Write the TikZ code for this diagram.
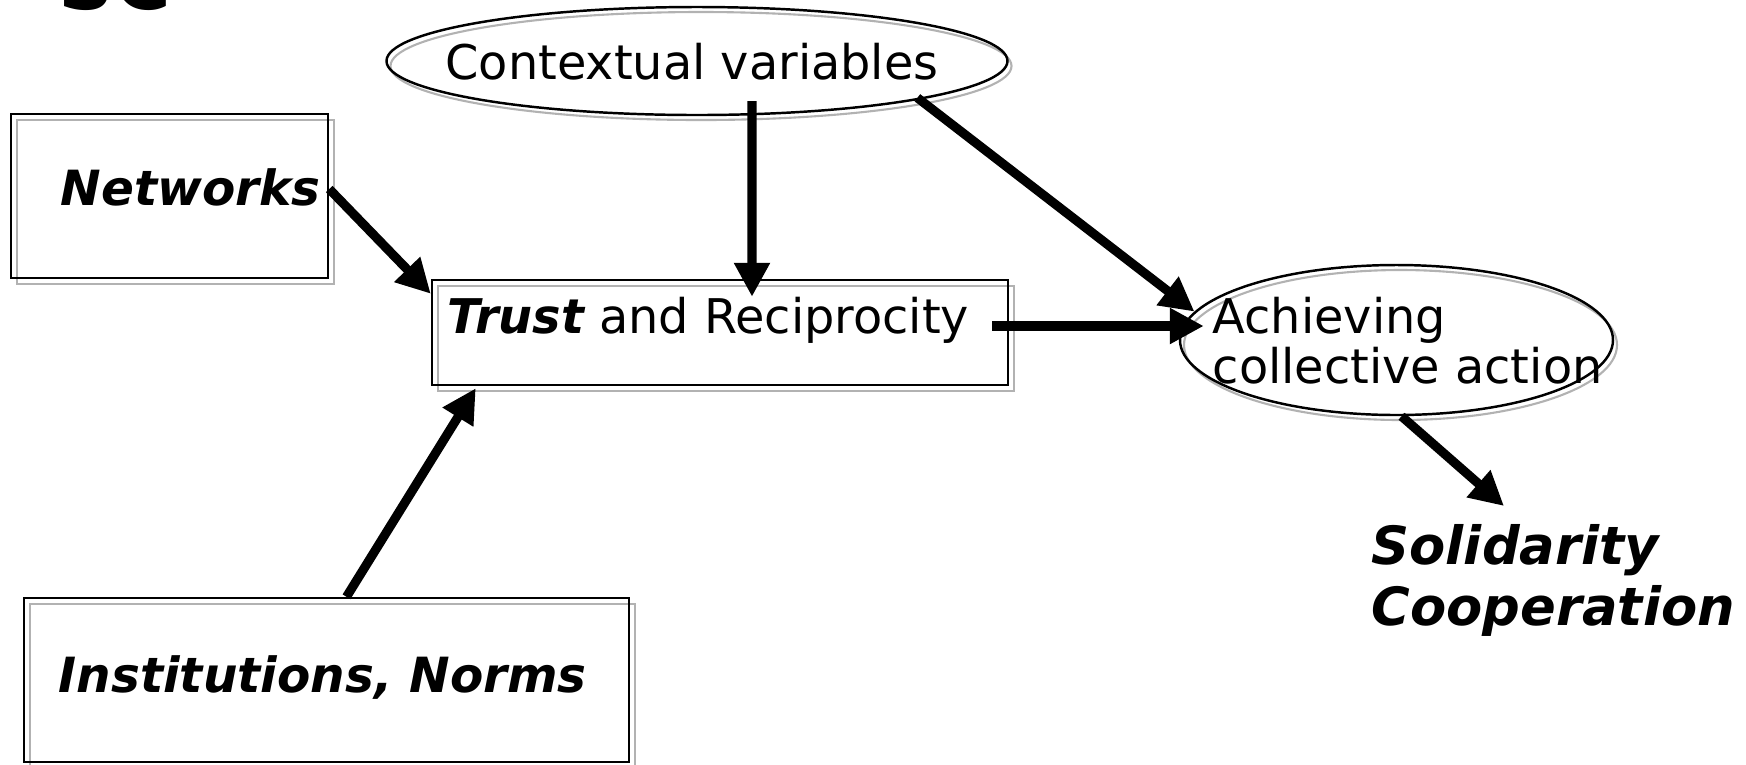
\documentclass[tikz,border=0pt]{standalone}
\usepackage{fontspec}
\setmainfont{DejaVu Sans}
\usetikzlibrary{arrows.meta, shapes.geometric, shadows}

\tikzset{
  box/.style={rectangle, draw, line width=0.7pt, inner sep=0pt,
    copy shadow={shadow xshift=0.06cm, shadow yshift=-0.06cm, draw=gray!60, fill=none, opacity=1, line width=0.6pt}},
  oval/.style={ellipse, draw, line width=0.7pt, inner sep=0pt,
    copy shadow={shadow xshift=0.04cm, shadow yshift=-0.05cm, draw=gray!60, fill=none, opacity=1, line width=0.6pt}},
  txt/.style={inner sep=0pt, font=\fontsize{13.6}{14.5}\selectfont},
  bold/.style={inner sep=0pt, font=\fontsize{13.8}{14.5}\selectfont\bfseries\itshape},
  flow/.style={line width=2.6pt, -{Triangle[length=0.34cm, width=0.34cm]}}
}

\begin{document}
\begin{tikzpicture}
\useasboundingbox (0,0) rectangle (17.46,-7.64);

\node[inner sep=0pt, anchor=base west, font=\fontsize{22}{24}\selectfont\bfseries] (title) at (0.58,-0.09) {SC};

\node[box, minimum width=3.17cm, minimum height=1.64cm] (netbox) at (1.695,-1.96) {};
\node[bold, anchor=base west] (net) at (0.60,-2.05) {Networks};

\node[oval, minimum width=6.21cm, minimum height=1.08cm] (ctx) at (6.97,-0.61) {};
\node[txt, anchor=base] (ctxt) at (6.92,-0.79) {Contextual variables};

\node[box, minimum width=5.76cm, minimum height=1.05cm] (trustbox) at (7.20,-3.325) {};
\node[txt, anchor=base west] (trust) at (4.47,-3.33) {{\bfseries\itshape Trust} and Reciprocity};

\node[oval, minimum width=4.33cm, minimum height=1.50cm] (ach) at (13.965,-3.40) {};
\node[txt, anchor=north west, align=left] (acht) at (12.12,-2.96) {Achieving\\collective action};

\node[bold, anchor=north west, align=left, font=\fontsize{15}{17.3}\selectfont\bfseries\itshape] (sol) at (13.71,-5.24) {Solidarity\\Cooperation};

\node[box, minimum width=6.05cm, minimum height=1.64cm] (instbox) at (3.265,-6.80) {};
\node[bold, anchor=base west] (inst) at (0.58,-6.92) {Institutions, Norms};

\draw[flow] ([yshift=0.07cm]netbox.east) -- ([yshift=-0.15cm]trustbox.north west);
\draw[flow] ([xshift=0.55cm, yshift=0.15cm]ctx.south) -- ([xshift=0.32cm, yshift=-0.18cm]trustbox.north);
\draw[flow] ([xshift=-0.12cm]ctx.-9) -- (ach.172);
\draw[flow] ([xshift=-0.17cm, yshift=0.065cm]trustbox.east) -- ([xshift=0.25cm, yshift=0.14cm]ach.west);
\draw[flow] ([xshift=0.2cm]instbox.north) -- ([xshift=0.45cm, yshift=-0.02cm]trustbox.south west);
\draw[flow] ([xshift=0.05cm]ach.south) -- ([xshift=1.33cm, yshift=0.18cm]sol.north west);
\end{tikzpicture}
\end{document}
